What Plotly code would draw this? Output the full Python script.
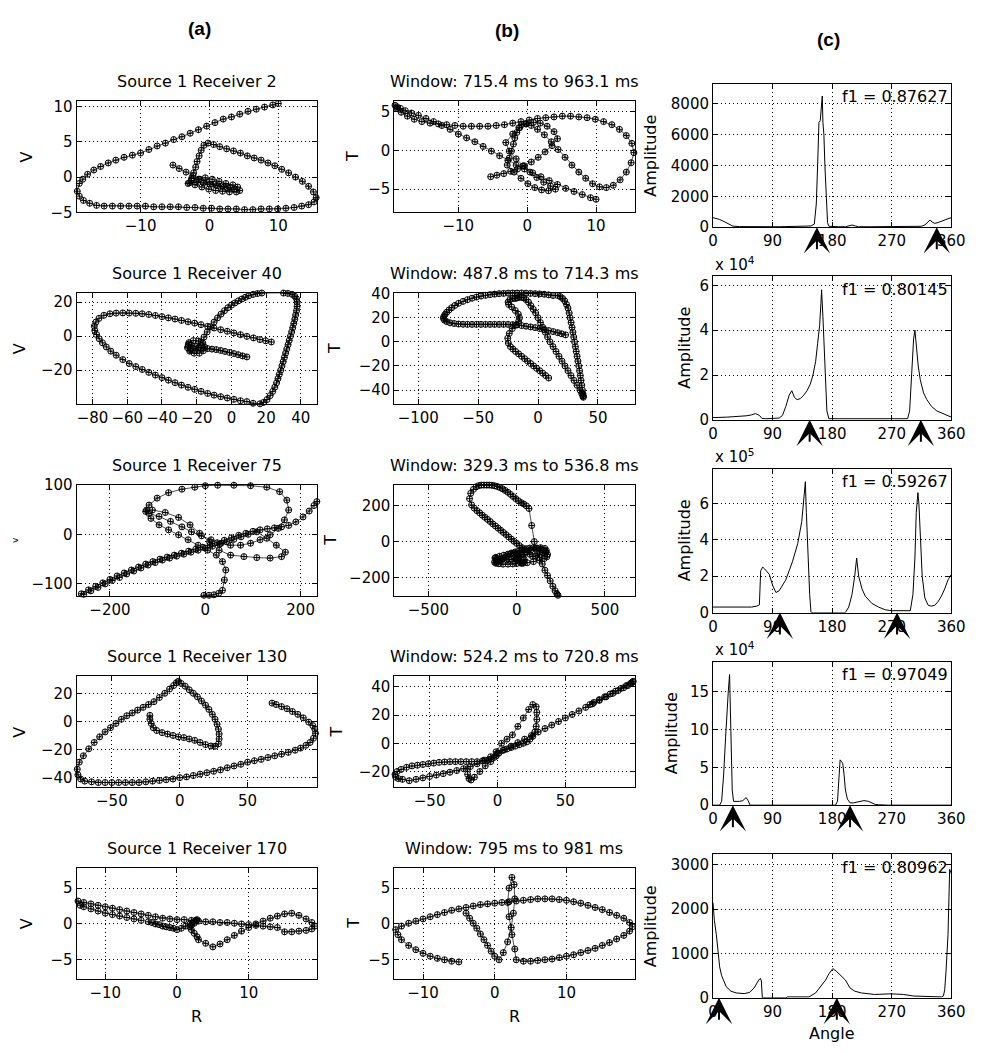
import plotly.graph_objects as go

W, H = 982, 1053

# ---------------- text ----------------
HEADERS = ["(a)", "(b)", "(c)"]
TITLES_A = ["Source 1 Receiver 2", "Source 1 Receiver 40", "Source 1 Receiver 75",
            "Source 1 Receiver 130", "Source 1 Receiver 170"]
TITLES_B = ["Window: 715.4 ms to 963.1 ms", "Window: 487.8 ms to 714.3 ms",
            "Window: 329.3 ms to 536.8 ms", "Window: 524.2 ms to 720.8 ms",
            "Window: 795 ms to 981 ms"]
F1_TEXT = ["f1 = 0.87627", "f1 = 0.80145", "f1 = 0.59267", "f1 = 0.97049", "f1 = 0.80962"]
EXPONENTS = ["", "4", "5", "4", ""]
YLAB_A = ["V", "V", "v", "V", "V"]

# ---------------- particle motion data (R shared by columns a and b) ----------------
R1 = [-5.3,-4.4,-3.4,-2.4,-1.4,-0.4,0.6,1.6,2.6,3.6,4.4,3.9,2.9,1.9,0.9,-0.1,-1.1,-2.1,-3.1,-2.6,-1.6,-0.6,0.4,1.4,2.4,3.4,4.1,3.1,2.1,1.1,0.1,-0.9,-1.9,-2.9,
      -2.6,-2.3,-2.0,-1.8,-1.5,-1.2,-0.8,-0.2,0.6,1.5,2.5,3.5,4.5,5.5,6.5,7.5,8.5,9.5,10.5,11.5,12.5,13.5,14.4,15.1,15.5,
      15.2,14.4,13.4,12.3,11.1,9.9,8.7,7.5,6.3,5.1,3.9,2.7,1.5,0.3,-0.9,-2.1,-3.3,-4.5,-5.7,-6.9,-8.1,-9.3,-10.5,-11.7,-12.9,-14.1,-15.3,-16.4,-17.4,-18.3,-18.9,-19.2,
      -18.9,-18.4,-17.7,-16.8,-15.8,-14.7,-13.6,-12.4,-11.2,-10.0,-8.8,-7.6,-6.4,-5.2,-4.0,-2.8,-1.6,-0.4,0.8,2.0,3.2,4.4,5.6,6.8,8.0,9.2,10.0]
V1 = [1.7,1.2,0.7,0.2,-0.3,-0.7,-1.0,-1.3,-1.5,-1.7,-1.9,-2.1,-2.1,-2.0,-1.9,-1.7,-1.4,-1.1,-0.9,-0.5,-0.3,-0.1,-0.3,-0.6,-0.9,-1.1,-1.4,-1.5,-1.4,-1.2,-1.0,-0.8,-0.7,-0.8,
      -0.2,0.6,1.4,2.2,3.0,3.8,4.5,4.8,4.6,4.3,4.0,3.7,3.4,3.0,2.7,2.4,2.0,1.6,1.1,0.6,0.0,-0.6,-1.3,-2.1,-2.9,
      -3.5,-3.9,-4.1,-4.3,-4.4,-4.5,-4.5,-4.5,-4.6,-4.6,-4.5,-4.5,-4.5,-4.4,-4.4,-4.3,-4.3,-4.2,-4.2,-4.2,-4.2,-4.1,-4.1,-4.1,-4.1,-4.1,-4.1,-4.0,-3.7,-3.3,-2.7,-2.0,
      -0.9,-0.3,0.4,1.0,1.5,2.0,2.4,2.8,3.1,3.4,3.9,4.4,4.8,5.3,5.7,6.2,6.7,7.2,7.7,8.2,8.5,8.9,9.3,9.6,9.9,10.2,10.4]
T1 = [-3.4,-3.2,-3.0,-2.7,-2.4,-2.0,-1.5,-0.9,-0.2,0.6,1.5,2.4,3.1,3.5,3.6,3.4,2.9,2.1,1.0,-0.1,-1.1,-2.0,-2.8,-3.5,-4.1,-4.6,-5.0,-5.2,-5.1,-4.8,-4.3,-3.6,-2.8,-1.9,
      -1.0,-0.1,0.8,1.6,2.3,2.9,3.3,3.4,3.2,2.7,2.0,1.1,0.1,-0.9,-1.9,-2.8,-3.6,-4.3,-4.7,-4.8,-4.5,-3.8,-2.8,-1.6,-0.3,
      0.9,1.9,2.7,3.3,3.7,4.0,4.2,4.3,4.4,4.4,4.3,4.2,4.1,3.9,3.7,3.5,3.3,3.2,3.1,3.1,3.1,3.1,3.2,3.3,3.4,3.5,3.7,4.0,4.4,4.9,5.4,5.8,
      5.6,5.4,5.1,4.8,4.5,4.1,3.7,3.2,2.7,2.1,1.6,1.1,0.5,-0.1,-0.7,-1.3,-1.9,-2.4,-2.9,-3.4,-3.9,-4.4,-4.9,-5.3,-5.7,-6.1,-6.3]

R2 = [8.9,6.4,3.9,1.4,-1.1,-3.7,-6.2,-8.7,-11.2,-13.7,-16.2,-18.7,-21.0,-23.0,-24.8,-25.3,-24.0,-21.5,-18.5,-16.2,-15.5,-16.5,-19.0,-22.0,-24.5,-25.0,-23.5,-21.0,-19.0,
      -17.5,-15.8,-14.0,-12.0,-10.0,-8.0,-6.0,-4.0,-2.0,0.0,2.0,4.0,6.0,8.0,10.0,12.5,15.0,17.5,20.0,22.5,25.0,27.5,30.0,32.5,35.0,36.5,37.5,
      37.8,37.8,37.5,37.0,36.5,35.9,35.3,34.7,34.0,33.3,32.6,31.9,31.2,30.5,29.8,29.1,28.4,27.6,26.8,26.0,25.0,23.8,22.3,20.5,18.5,16.4,
      12.5,8.9,5.2,1.4,-2.4,-6.2,-10.0,-13.7,-17.5,-21.2,-25.0,-28.8,-32.5,-36.3,-40.0,-43.8,-47.6,-51.4,-55.1,-58.9,-62.6,-66.4,-69.5,-72.1,-74.3,-76.2,-77.7,-78.7,-79.0,-78.1,-76.3,
      -73.5,-70.0,-66.4,-62.6,-58.9,-55.1,-51.4,-47.6,-43.8,-40.0,-36.3,-32.5,-28.8,-25.0,-21.2,-17.5,-13.7,-10.0,-6.2,-2.4,1.4,5.2,8.9,12.7,16.4,19.7,23.0]
V2 = [-12.2,-11.6,-10.9,-10.2,-9.6,-9.0,-8.4,-7.9,-7.6,-7.3,-7.0,-6.6,-6.0,-5.4,-4.8,-6.8,-8.8,-10.0,-10.0,-8.6,-6.4,-4.0,-2.8,-2.6,-3.8,-6.0,-8.2,-8.6,-7.0,
      -3.5,-0.5,2.5,5.5,8.3,10.8,13.0,15.0,16.8,18.3,19.6,20.8,21.9,22.9,23.8,24.6,25.1,25.4,25.5,25.5,25.5,25.5,25.4,25.2,24.6,23.5,22.0,
      20.0,17.5,15.0,12.5,10.0,7.5,5.0,2.5,0.0,-2.5,-5.0,-7.5,-10.0,-12.5,-15.0,-17.5,-20.0,-22.5,-25.0,-27.5,-30.0,-32.5,-35.0,-37.3,-39.0,-39.8,
      -39.5,-38.5,-38.0,-37.2,-36.4,-35.6,-34.7,-33.7,-32.5,-31.3,-30.1,-28.8,-27.4,-25.9,-24.4,-22.9,-21.3,-19.6,-17.9,-16.1,-13.8,-11.2,-8.8,-6.3,-3.9,-1.5,1.0,3.4,5.9,8.3,10.5,
      12.3,13.2,13.6,13.7,13.6,13.5,13.2,12.8,12.2,11.5,10.8,10.1,9.3,8.5,7.7,6.8,5.8,4.8,3.8,2.9,1.9,0.9,-0.1,-1.0,-2.0,-2.7,-3.4]
T2 = [-30,-28,-26,-24,-22,-20,-18,-16,-14,-12,-10,-8,-6,-4,-1,3,7,11,14,17,20,23,26,29,31,33,35,36,36,
      36.5,37,37,36.5,35,33,30,27,24,20,16,12,8,4,0,-4,-8,-12,-16,-20,-24,-28,-32,-36,-40,-43,-45,
      -46,-45,-43,-40,-36,-32,-28,-24,-20,-16,-12,-8,-4,0,4,8,12,16,20,24,28,31,34,36,37.5,38.5,
      38.5,39,39.5,39.8,40,40.2,40.4,40.5,40.5,40.5,40.4,40.2,40,39.6,39.2,38.6,38,37.2,36.2,35,33.6,32,30.2,28.3,26.5,24.6,22.7,21,19.5,18,16.8,
      15.8,15.2,14.8,14.6,14.5,14.5,14.5,14.5,14.5,14.5,14.5,14.5,14.5,14.5,14.3,14.0,13.5,13.0,12.4,11.8,11.0,10.2,9.4,8.5,7.6,6.7,5.8]

R3 = [-3,8,18,28,36,40,43,36,23,5,-15,-36,-56,-77,-97,-114,-125,
      -118,-101,-77,-49,-22,0,26,60,95,129,156,171,175,166,153,136,115,95,74,53,
      33,12,-8,-29,-49,-73,-97,-118,-123,-111,-84,-56,-32,-12,9,29,53,81,108,136,160,168,149,129,108,
      90,75,60,45,30,15,0,-15,-30,-45,-60,-75,-90,-105,-120,-135,-150,-165,-180,-195,-210,-225,-240,-255,-267,
      -260,-245,-230,-215,-200,-185,-170,-155,-140,-125,-110,-95,-80,-65,-50,-35,-20,-5,10,25,40,55,70,85,100,115,130,145,160,175,190,205,218,228,234]
V3 = [-123,-123,-122,-119,-113,-92,-72,-55,-42,-32,-22,-11,-1,9,19,32,46,
      59,73,84,91,95,98,99,99,98,95,86,69,49,29,12,-1,-11,-18,-22,-22,
      -18,-11,-3,5,15,26,36,42,49,49,44,34,19,2,-15,-32,-42,-45,-47,-48,-45,-36,-22,-8,5,
      0,-5,-10,-15,-20,-24,-28,-32,-36,-40,-44,-48,-52,-57,-62,-68,-74,-80,-87,-93,-100,-107,-114,-121,-126,
      -120,-112,-105,-98,-91,-84,-78,-72,-66,-60,-55,-50,-46,-42,-38,-34,-30,-26,-22,-17,-12,-7,-2,2,6,9,11,13,15,18,25,35,47,58,66]
T3 = [-95,-105,-112,-118,-121,-115,-100,-85,-75,-68,-65,-70,-80,-95,-105,-112,-115,
      -121,-124,-126,-126,-125,-123,-121,-118,-112,-104,-95,-85,-72,-60,-50,-42,-36,-34,-36,-40,
      -46,-52,-58,-64,-70,-76,-82,-88,-92,-96,-100,-102,-100,-95,-85,-72,-58,-46,-38,-34,-38,-50,-62,-72,-80,
      -83,-71,-59,-46,-34,-22,-10,2,14,26,39,51,63,75,87,99,112,124,136,148,161,173,187,205,240,
      270,292,306,313,316,316,316,316,315,312,308,302,295,286,276,264,252,240,228,218,210,200,185,90,0,-50,-90,-125,-160,-190,-220,-250,-275,-292,-300]

R4 = [-22,-22,-21,-19.5,-17,-13,-9,-5,-1,3,7,11,15,19,23,26,28.5,29,29,28.5,27.5,26,24,21.5,19,16,13,10,7,4,
      1,-1,-2.5,-4.5,-7.5,-11,-15,-19,-23,-27,-31,-35,-39,-43,-47,-51,-55,-59,-63,-67,-71,-74,-75.5,-75,-73,-70,
      -65,-60,-55,-50,-45,-40,-35,-30,-25,-20,-15,-10,-5,0,5,10,15,20,25,30,35,40,45,50,55,60,65,70,75,80,
      85,89,93,96,98.5,100,99.5,98,95,91,87,83,79,75,71,68]
V4 = [4.3,1.5,-1.5,-4.5,-6.5,-8,-9,-10,-11,-11.5,-12.5,-13.5,-15,-16.5,-17.5,-17.7,-16,-12.5,-9,-5.5,-2,1.5,5,8.5,11.5,14.5,17.5,20,22.5,25,
      27,28.5,27.5,25.5,23,20,17,14,12,10,8,6,4,1.5,-1.5,-4.5,-7.5,-11,-15,-19.5,-24.5,-29,-34,-38,-41,-42.5,
      -43,-43.5,-43.5,-43.5,-43.5,-43.5,-43.5,-43.5,-43,-42.5,-42,-41.5,-41,-40,-39.5,-38.5,-37.5,-36.5,-35.5,-34.5,-33,-31.7,-30.5,-29,-28,-27,-25.7,-24.5,-23.3,-22,
      -20.5,-19,-17,-15,-12,-8.5,-5.5,-3,-0.5,2.5,5,7,9,10.5,12,13]
T4 = [-18,-22,-25,-26,-24,-20,-16,-13,-6,0,3,6,12,18,24,27.5,26,22,17,12,8,5,3,1,0,-1,-2,-3,-4,-5,
      -7,-9,-10,-11,-12,-12.5,-13,-13,-13,-13,-13,-13,-13.2,-13.5,-14,-14.5,-15,-15.5,-16,-17,-18.5,-20,-22,-24,-25,-25.5,
      -26.5,-25.5,-24.5,-23.5,-22.5,-21.5,-20.5,-19.3,-18,-16.5,-14.5,-12,-9.5,-7,-4.5,-2,0.5,3,5.5,8,10.5,13,15.5,18,20.5,23,25.5,28,30.5,33,
      35.5,37.5,39.5,41,42.5,44,43.5,42.5,41,39,37,35,33,31,29,27.5]

R5 = [-4,-3.5,-3,-2.5,-2,-1.5,-1,-0.5,0,
      0.6,1.2,1.8,2.3,2.6,2.8,2.7,2.4,2.0,1.8,2.0,2.4,2.8,3.0,
      4,5,6,7,8,9,10,11,12,13,14,15,16,17,18,18.8,19.2,
      18.8,18,17,16,15,
      14,13,12,11,10,9,8,7,6,5,4,3,2,1,0,-1,-2,-3,-4,-5,-6,-7,-8,-9,-10,-11,-12,-13,-13.8,
      -13.5,-13,-12,-11,-10,-9,-8,-7,-6,-5]
V5 = [0.3,0.2,0.0,-0.1,-0.3,-0.4,-0.5,-0.6,-0.8,
      -0.6,-0.3,0.0,0.3,0.5,0.6,0.4,0.1,-0.2,-0.4,-0.8,-1.3,-1.8,-2.2,
      -2.7,-3.2,-2.8,-2.2,-1.6,-1.0,-0.5,0.0,0.4,0.8,1.1,1.4,1.5,1.2,0.7,0.2,-0.3,
      -0.7,-0.9,-1.0,-1.1,-1.1,
      -0.5,-0.4,-0.3,-0.2,-0.1,0,0.1,0.2,0.2,0.3,0.3,0.4,0.5,0.6,0.6,0.7,0.8,1.0,1.2,1.4,1.6,1.8,2.0,2.2,2.4,2.6,2.8,3.0,3.2,
      2.6,2.4,2.1,1.8,1.5,1.3,1.1,0.9,0.7,0.5]
T5 = [1.5,0.8,0.1,-0.6,-1.4,-2.2,-3.0,-3.8,-4.5,
      -5,-4,-2.5,-0.5,1.5,3.5,5.5,6.5,5,3,1,-1.5,-3.5,-5,
      -5.2,-5.2,-5.1,-5.0,-4.9,-4.7,-4.5,-4.3,-4.0,-3.7,-3.4,-3.0,-2.6,-2.1,-1.6,-1.0,-0.4,
      0.2,0.8,1.2,1.6,2.0,
      2.3,2.6,2.9,3.1,3.3,3.4,3.5,3.5,3.5,3.4,3.3,3.2,3.1,3.0,2.9,2.8,2.7,2.5,2.3,2.1,1.9,1.6,1.3,1.0,0.7,0.4,0.1,-0.3,-0.8,
      -1.5,-2.2,-3.0,-3.6,-4.1,-4.5,-4.8,-5.0,-5.2,-5.3]

R_ALL = [R1, R2, R3, R4, R5]
V_ALL = [V1, V2, V3, V4, V5]
T_ALL = [T1, T2, T3, T4, T5]

# ---------------- amplitude vs angle data ----------------
ANG1 = [0,5,10,15,20,25,30,40,50,60,70,80,90,100,110,120,130,140,148,153,156,158,160,162,164,165,166,167.5,169,171,173,175,180,190,200,205,210,215,220,240,260,280,300,315,320,325,328,331,335,340,345,350,355,360]
AMP1 = [620,580,500,400,280,150,70,40,30,30,40,40,40,30,40,40,50,60,80,200,1500,4000,6800,6900,8000,8500,6800,6000,4000,1500,300,60,40,30,30,80,140,80,30,30,30,40,40,60,150,350,470,330,250,300,400,480,550,620]
ANG2 = [0,10,20,30,40,50,58,64,70,74,80,90,100,105,110,115,119,123,127,132,137,142,147,151,155,158,161,163,164,166,168,170,172,175,180,200,230,260,285,294,297,300,303,305,307,310,313,318,323,330,338,345,352,360]
AMP2_E4 = [0.1,0.1,0.12,0.14,0.15,0.18,0.22,0.28,0.2,0.06,0.05,0.05,0.08,0.2,0.6,1.1,1.3,1.0,0.9,0.95,1.1,1.3,1.6,2.0,2.6,3.4,4.2,5.2,5.8,4.6,3.0,1.5,0.4,0.05,0.05,0.05,0.04,0.03,0.03,0.05,0.4,2.0,3.6,4.0,3.3,2.4,1.8,1.2,0.9,0.6,0.4,0.3,0.2,0.12]
ANG3 = [0,20,40,58,66,70,72,75,78,85,90,95,100,110,120,128,134,137,139.5,141,143,146,148,170,200,205,210,214,217,220,225,230,240,250,260,270,290,298,302,305,307,309.5,311,313,316,320,325,330,335,340,345,350,355,360]
AMP3_E5 = [0.3,0.3,0.3,0.3,0.35,0.42,2.3,2.5,2.4,2.1,1.5,1.1,1.2,1.8,2.8,3.8,5.0,6.5,7.2,5.5,3.5,1.0,0.0,0.0,0.0,0.3,1.0,2.0,3.0,2.0,1.3,0.9,0.5,0.3,0.15,0.1,0.1,0.1,1.0,3.0,5.5,6.6,6.0,4.0,2.0,0.8,0.4,0.35,0.4,0.6,0.9,1.3,1.8,2.1]
ANG4 = [0,10,13,16,19,21,23,25,27,29,31,35,40,45,50,53,56,60,90,150,185,188,190,192,194,196,198,200,203,207,212,220,228,235,240,245,250,265,300,360]
AMP4_E4 = [0,0,0.5,4,9,13,15,17.3,10,2,0.5,0.5,0.5,0.6,1.0,0.6,0,0,0,0,0,0.5,3,6.0,5.8,5.5,4,2,0.8,0.3,0.3,0.5,0.6,0.5,0.3,0.1,0.05,0,0,0]
ANG5 = [0,2,5,8,10,13,17,20,27,35,47,55,62,66,69,71.5,73,74.5,80,110,113,130,145,155,163,170,175,181,187,193,200,207,214,224,244,269,288,303,330,345,348,350,352,355,357.5,360]
AMP5 = [2150,1750,1430,1000,700,500,330,250,150,110,95,120,220,330,400,440,380,0,0,0,20,20,20,110,260,400,540,660,590,500,400,220,150,110,75,90,75,40,20,20,40,180,600,1430,2900,2800]
ANG_ALL = [ANG1, ANG2, ANG3, ANG4, ANG5]
AMP_ALL = [AMP1, AMP2_E4, AMP3_E5, AMP4_E4, AMP5]

ARROWS = [[157, 338], [146, 314], [101, 278], [30, 207], [9, 187]]

# ---------------- axes ----------------
XR_A = [[-19.3, 15.6], [-89.2, 49.2], [-270, 234], [-76, 101], [-14, 19.5]]
YR_A = [[-5.0, 10.7], [-40, 25.4], [-124, 100], [-47, 32], [-7.7, 7.8]]
XR_B = [[-19.3, 15.6], [-120, 80.6], [-693, 668], [-76, 101], [-14, 19.5]]
YR_B = [[-8, 6.3], [-51.7, 40.5], [-303, 318], [-31.3, 47.5], [-7.7, 7.8]]
YR_C = [[0, 9300], [0, 6.4], [0, 7.9], [0, 19], [0, 3240]]
XT_A = [[-10, 0, 10], [-80, -60, -40, -20, 0, 20, 40], [-200, 0, 200], [-50, 0, 50], [-10, 0, 10]]
YT_A = [[-5, 0, 5, 10], [-20, 0, 20], [-100, 0, 100], [-40, -20, 0, 20], [-5, 0, 5]]
XT_B = [[-10, 0, 10], [-100, -50, 0, 50], [-500, 0, 500], [-50, 0, 50], [-10, 0, 10]]
YT_B = [[-5, 0, 5], [-40, -20, 0, 20, 40], [-200, 0, 200], [-20, 0, 20, 40], [-5, 0, 5]]
XT_C = [0, 90, 180, 270, 360]
YT_C = [[0, 2000, 4000, 6000, 8000], [0, 2, 4, 6], [0, 2, 4, 6], [0, 5, 10, 15], [0, 1000, 2000, 3000]]

# ---------------- layout geometry (pixels) ----------------
COLS = [(73, 318), (397, 642), (722, 965)]
TOP_AB = [94 + 195 * i for i in range(5)]
H_AB = 113
TOP_C = [76 + 196 * i for i in range(5)]
H_C = 146
YLAB_X_A = [22, 15, 10, 15, 22]
YLAB_X_B = [355, 336, 332, 338, 355]
YLAB_X_C = [658, 693, 693, 680, 658]
HEADER_POS = [(198, 20), (512, 22), (840, 31)]

FONT = "DejaVu Sans"


def fx(px):
    return px / W


def fy(py):
    return 1 - py / H


def lab(v):
    return ("\u2212" + str(abs(v))) if v < 0 else str(v)


for i in range(5):
    assert len(R_ALL[i]) == len(V_ALL[i]) == len(T_ALL[i]), (i, len(R_ALL[i]), len(V_ALL[i]), len(T_ALL[i]))
    assert len(ANG_ALL[i]) == len(AMP_ALL[i]), (i, len(ANG_ALL[i]), len(AMP_ALL[i]))

fig = go.Figure()
layout = dict(width=W, height=H, margin=dict(l=0, r=0, t=0, b=0), autosize=False,
              paper_bgcolor="white", plot_bgcolor="white", showlegend=False)
annotations = []

axis_common = dict(showline=True, linecolor="black", linewidth=1, mirror="ticks",
                   ticks="inside", ticklen=5, tickcolor="black", tickwidth=1,
                   showgrid=True, gridcolor="black", griddash="1px,3px", gridwidth=1,
                   zeroline=False, fixedrange=True,
                   tickfont=dict(family=FONT, size=15, color="black"))

marker_style = dict(symbol="circle-cross-open", size=6, color="black", line=dict(width=1, color="black"))


def add_axes(n, col, top, height, xr, yr, xt, yt):
    left, right = COLS[col]
    xs = "xaxis" if n == 1 else f"xaxis{n}"
    ys = "yaxis" if n == 1 else f"yaxis{n}"
    layout[xs] = dict(axis_common, domain=[fx(left), fx(right)], range=xr, anchor=f"y{n}" if n > 1 else "y",
                      tickvals=xt, ticktext=[lab(v) for v in xt])
    layout[ys] = dict(axis_common, domain=[fy(top + height), fy(top)], range=yr, anchor=f"x{n}" if n > 1 else "x",
                      tickvals=yt, ticktext=[lab(v) for v in yt])


def text(x, y, s, size=15, angle=0, xanchor="center", yanchor="middle", family=FONT):
    annotations.append(dict(x=fx(x), y=fy(y), xref="paper", yref="paper", text=s, showarrow=False,
                            xanchor=xanchor, yanchor=yanchor, textangle=angle,
                            font=dict(family=family, size=size, color="black")))


for i in range(5):
    na, nb, nc = 3 * i + 1, 3 * i + 2, 3 * i + 3
    add_axes(na, 0, TOP_AB[i], H_AB, XR_A[i], YR_A[i], XT_A[i], YT_A[i])
    add_axes(nb, 1, TOP_AB[i], H_AB, XR_B[i], YR_B[i], XT_B[i], YT_B[i])
    add_axes(nc, 2, TOP_C[i], H_C, [0, 360], YR_C[i], XT_C, YT_C[i])

    xa = "x" if na == 1 else f"x{na}"
    ya = "y" if na == 1 else f"y{na}"
    fig.add_trace(go.Scatter(x=R_ALL[i], y=V_ALL[i], mode="lines+markers", xaxis=xa, yaxis=ya,
                             line=dict(color="black", width=0.7), marker=marker_style,
                             cliponaxis=False, connectgaps=False, hoverinfo="skip"))
    fig.add_trace(go.Scatter(x=R_ALL[i], y=T_ALL[i], mode="lines+markers", xaxis=f"x{nb}", yaxis=f"y{nb}",
                             line=dict(color="black", width=0.7), marker=marker_style,
                             cliponaxis=False, connectgaps=False, hoverinfo="skip"))
    fig.add_trace(go.Scatter(x=ANG_ALL[i], y=AMP_ALL[i], mode="lines", xaxis=f"x{nc}", yaxis=f"y{nc}",
                             line=dict(color="black", width=1), hoverinfo="skip"))

    text((COLS[0][0] + COLS[0][1]) / 2, TOP_AB[i] - 20, TITLES_A[i], size=16)
    text((COLS[1][0] + COLS[1][1]) / 2, TOP_AB[i] - 20, TITLES_B[i], size=16)
    ymid_ab = TOP_AB[i] + H_AB / 2
    text(YLAB_X_A[i], ymid_ab, YLAB_A[i], size=16 if YLAB_A[i] == "V" else 9, angle=-90)
    text(YLAB_X_B[i], ymid_ab, "T", size=16, angle=-90)
    text(YLAB_X_C[i], TOP_C[i] + H_C / 2, "Amplitude", size=16, angle=-90)
    text(COLS[2][1] - 1, TOP_C[i] + 13, F1_TEXT[i], size=16, xanchor="right")
    if EXPONENTS[i]:
        text(COLS[2][0], TOP_C[i] - 13, "x 10<sup>" + EXPONENTS[i] + "</sup>", size=15, xanchor="left")
    for ang in ARROWS[i]:
        annotations.append(dict(x=ang, y=0, xref=f"x{nc}", yref=f"y{nc}", text=" ", showarrow=True,
                                ax=0, ay=24, axref="pixel", ayref="pixel", arrowhead=3,
                                arrowsize=2.2, arrowwidth=2, arrowcolor="black", standoff=0,
                                font=dict(size=1)))

for j in range(3):
    text(HEADER_POS[j][0], HEADER_POS[j][1], "<b>" + HEADERS[j] + "</b>", size=19, family="Liberation Sans")

text((COLS[0][0] + COLS[0][1]) / 2, 1025, "R", size=16)
text((COLS[1][0] + COLS[1][1]) / 2, 1025, "R", size=16)
text((COLS[2][0] + COLS[2][1]) / 2, 1042, "Angle", size=16)

layout["annotations"] = annotations
fig.update_layout(**layout)
fig.write_html("out.html")
